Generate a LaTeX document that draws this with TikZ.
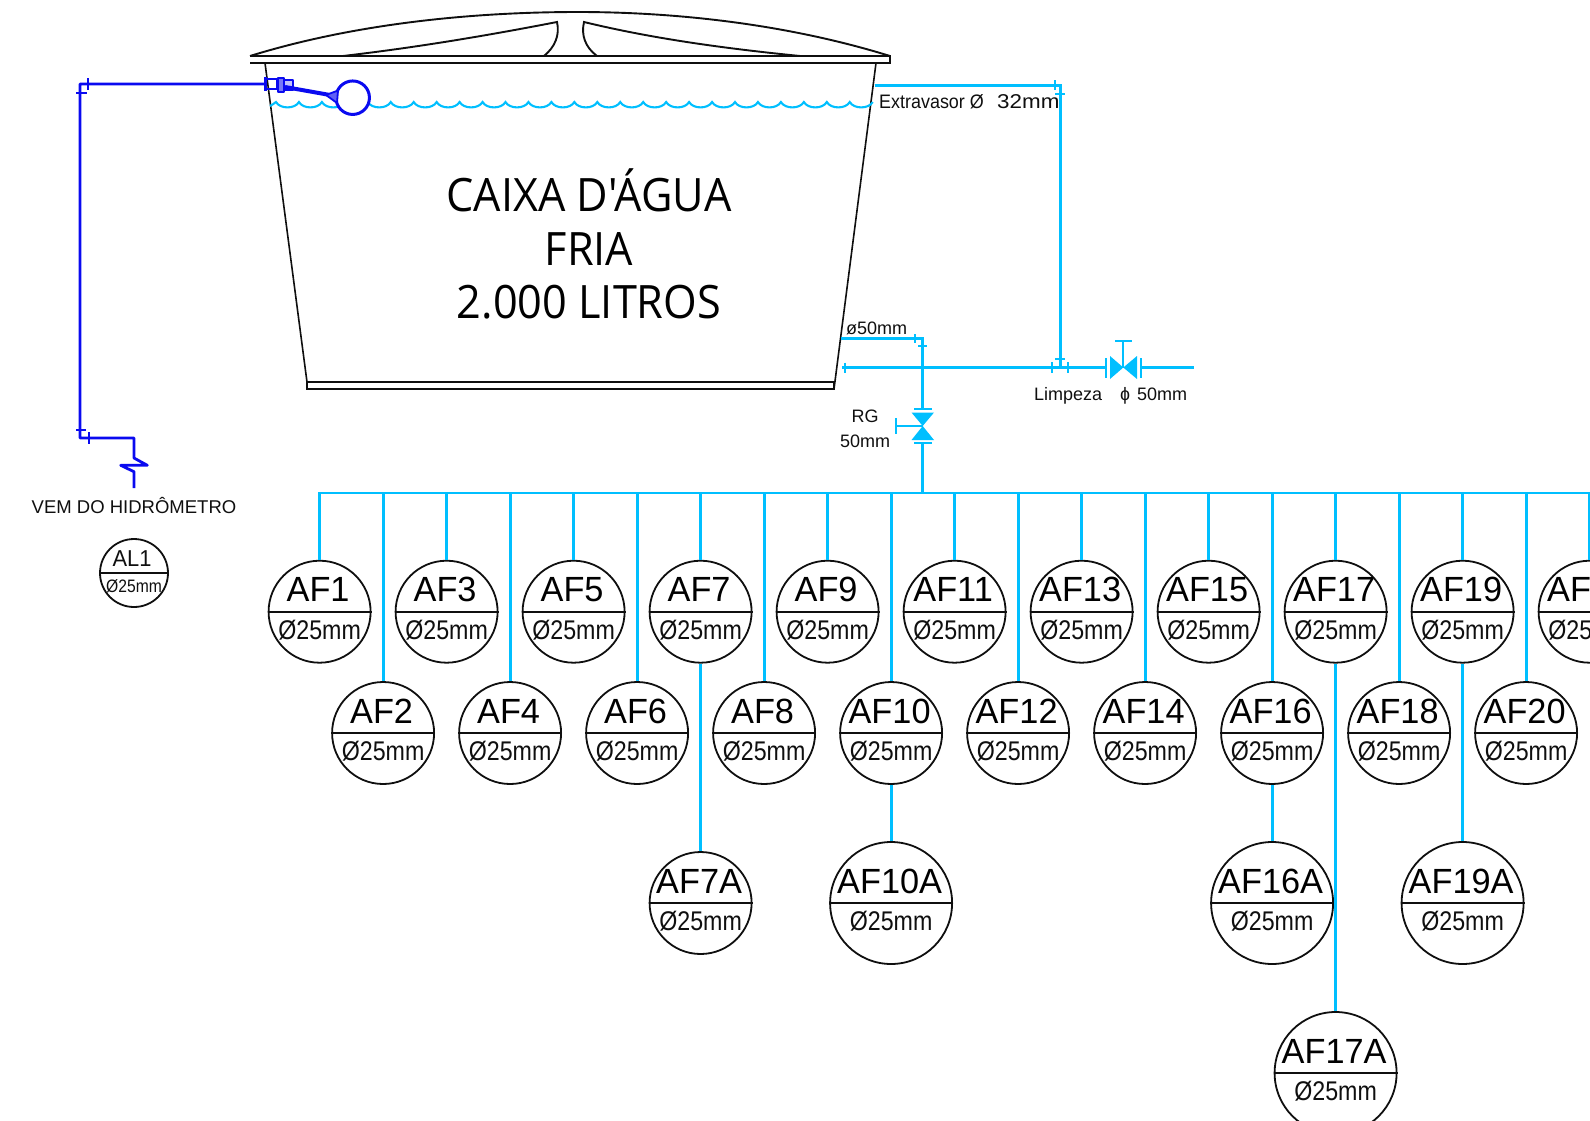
\documentclass[tikz,border=0pt]{standalone}
\usepackage{fontspec}
\usepackage{graphicx}
\setmainfont{Liberation Sans}
\newfontfamily\tankfont{Open Sans}
\definecolor{wat}{RGB}{0,191,255}
\definecolor{feed}{RGB}{10,10,240}
\definecolor{ink}{RGB}{15,15,15}
\tikzset{
  x=1pt,y=-1pt,
  tank/.style={draw=ink,line width=1.9pt},
  pipe/.style={draw=wat,line width=2.8pt},
  feedpipe/.style={draw=feed,line width=2.8pt,line join=round},
  tick/.style={draw=wat,line width=2.2pt},
  feedtick/.style={draw=feed,line width=2.4pt},
  tag/.style={draw=ink,line width=1.8pt,circle,minimum size=102pt,inner sep=0pt,fill=white},
  bigtag/.style={tag,minimum size=122pt},
  note/.style={text=ink,font=\fontsize{18}{18}\selectfont,inner sep=0pt},
  tanktext/.style={text=black,font=\tankfont\fontsize{46}{53.5}\selectfont,inner sep=0pt,align=center}
}
\newcommand{\tagtext}[2]{%
  \draw[ink,line width=1.8pt] (#1.west) -- (#1.east);
  \node[inner sep=0pt,font=\fontsize{35}{35}\selectfont,text=black] at ([xshift=-1.5pt,yshift=22pt]#1.center) {\scalebox{.98}[1]{#2}};
  \node[inner sep=0pt,font=\fontsize{27}{27}\selectfont,text=ink] at ([yshift=-18pt]#1.center) {\scalebox{.86}[1]{Ø25mm}};
}
\begin{document}
\begin{tikzpicture}
\clip (0,0) rectangle (1590,1120);
\useasboundingbox (0,0) rectangle (1590,1120);
% ---- tank
\draw[tank] (250,56) .. controls (360,22) and (480,12) .. (578,12) .. controls (680,12) and (790,25) .. (890,56);
\draw[tank] (250,56) -- (890,56) -- (890,63) -- (250,63);
\draw[tank] (343,56) .. controls (420,47) and (490,35) .. (557,22) .. controls (560,35) and (555,47) .. (544,56);
\draw[tank] (800,56) .. controls (720,48) and (650,38) .. (584,22) .. controls (581,35) and (585,47) .. (597,56);
\draw[tank,line width=1.6pt] (265,63) -- (307,382) -- (307,389) -- (834,389) -- (834,382);
\draw[tank,line width=1.6pt] (307,382) -- (834,382);
\draw[tank,line width=1.6pt] (876,63) -- (834,389);
\node[tanktext] (tanklabel) at (589,244) {\scalebox{.94}[1]{CAIXA D'ÁGUA}\\\scalebox{.94}[1]{FRIA}\\\scalebox{.94}[1]{2.000 LITROS}};
% ---- water surface
\draw[wat,line width=2.1pt] (270,106) .. controls (272,105) and (274,103.5) .. (276,102)
  foreach \i in {0,...,25}{ .. controls ({276+\i*22.95+4},109.2) and ({276+\i*22.95+19},109.2) .. ({276+\i*22.95+22.95},102) };
% ---- float valve
\node[draw=feed,line width=3pt,circle,minimum size=33.5pt,inner sep=0pt,fill=white] (float) at (352.7,97.7) {};
\coordinate (fillend) at (266,84);
\coordinate (fcorner1) at (80,84);
\coordinate (fcorner2) at (80,438);
\coordinate (fcorner3) at (134,438);
\coordinate (fz1) at (134,458);
\coordinate (fz2) at (134,471.7);
\coordinate (fend) at (134,488);
\draw[feedpipe] (fend) -- (fz2) -- (120.7,465.3) -- (147.3,465.3) -- (fz1) -- (fcorner3) -- (fcorner2) -- (fcorner1) -- (fillend);
\draw[feedtick] (88,78) -- (88,90) (76,93) -- (87,93) (76,430) -- (86,430) (89,432) -- (89,444);
\draw[feedpipe,line width=2.4pt] (266,79) rectangle (277,89);
\draw[feedpipe,line width=3pt] (265,77) -- (265,91);
\draw[feedpipe,line width=2.4pt,fill=feed!55] (278,78) rectangle (284,92);
\draw[feedpipe,line width=2.4pt,fill=feed!25] (284,80) rectangle (293,90);
\draw[feed,line width=4pt] (285,87) -- (330,95);
\draw[feed,line width=1.8pt,fill=feed!65] (326,95) -- (338,90.5) -- (337,103) -- cycle;
% ---- overflow
\coordinate (ovA) at (875,85.5);
\coordinate (ovB) at (1060.5,85.5);
\coordinate (ovC) at (1060.5,367.5);
\draw[pipe] (ovA) -- (ovB) -- (ovC);
\draw[tick] (1055,80) -- (1055,90) (1055,94) -- (1065,94);
\draw[tick] (1055,359) -- (1065,359);
\node[note,anchor=west,font=\fontsize{19.5}{19.5}\selectfont] (ovlabel) at (879,102) {\scalebox{.92}[1]{Extravasor Ø}};
\node[note,anchor=west,font=\fontsize{20}{20}\selectfont] (ovsize) at (997,102) {\scalebox{1.12}[1]{32mm}};
% ---- cleaning / outlet
\coordinate (clA) at (842,367.5);
\coordinate (clB) at (1194,367.5);
\draw[pipe] (clA) -- (1106,367.5);
\draw[pipe] (1141,367.5) -- (clB);
\draw[tick] (845,362.5) -- (845,372.5) (1051.7,362) -- (1051.7,373) (1068.3,362) -- (1068.3,373);
\draw[tick] (1106,358) -- (1106,378) (1140.7,358) -- (1140.7,378);
\path[fill=wat] (1110,356) -- (1123.3,367.5) -- (1110,379) -- cycle;
\path[fill=wat] (1137,356) -- (1123.3,367.5) -- (1137,379) -- cycle;
\draw[tick] (1123.3,367.5) -- (1123.3,341) (1115,341) -- (1132,341);
\node[note,anchor=west] (limp) at (1034,396) {Limpeza};
\node[note,anchor=west] (dia) at (1120,396) {ɸ\hspace{7pt}50mm};
% ---- outlet
\coordinate (ouA) at (841,338.5);
\coordinate (ouB) at (922.7,338.5);
\coordinate (trunk) at (922.7,493);
\draw[pipe] (ouA) -- (ouB) -- (922.7,408);
\draw[pipe] (922.7,444) -- (trunk);
\draw[tick] (915,334) -- (915,343) (918,346) -- (927,346);
\draw[tick] (914,408.7) -- (932,408.7) (914,443) -- (932,443);
\path[fill=wat] (911.5,412.5) -- (934,412.5) -- (922.7,426) -- cycle;
\path[fill=wat] (911.5,440) -- (934,440) -- (922.7,426) -- cycle;
\draw[tick] (922.7,426) -- (896,426) (896,418) -- (896,434);
\node[note,anchor=west] (d50) at (846,328) {ø50mm};
\node[note] (rg) at (865,416) {RG};
\node[note] (rg50) at (865,441) {50mm};
\node[text=ink,inner sep=0pt,font=\fontsize{18.5}{18.5}\selectfont] (vem) at (134,505) {VEM DO HIDRÔMETRO};
% ---- branch main
\coordinate (mainL) at (318.2,493);
\coordinate (mainR) at (1590,493);
\draw[pipe] (mainL) -- (mainR);
% ---- branches
\foreach \n/\xx in {1/319.6,3/446.6,5/573.6,7/700.6,9/827.6,11/954.6,13/1081.6,15/1208.6,17/1335.6,19/1462.6,21/1589.6}{
  \node[tag] (AF\n) at (\xx,611.7) {};
  \draw[pipe] (\xx,493) -- (AF\n.north);
}
\foreach \n/\xx in {2/383.1,4/510.1,6/637.1,8/764.1,10/891.1,12/1018.1,14/1145.1,16/1272.1,18/1399.1,20/1526.1}{
  \node[tag] (AF\n) at (\xx,733) {};
  \draw[pipe] (\xx,493) -- (AF\n.north);
}
\node[tag] (AF7A) at (700.6,903) {};
\node[bigtag] (AF10A) at (891.1,903) {};
\node[bigtag] (AF16A) at (1272.1,903) {};
\node[bigtag] (AF19A) at (1462.6,903) {};
\node[bigtag] (AF17A) at (1335.6,1073) {};
\draw[pipe] (AF7.south) -- (AF7A.north);
\draw[pipe] (AF10.south) -- (AF10A.north);
\draw[pipe] (AF16.south) -- (AF16A.north);
\draw[pipe] (AF19.south) -- (AF19A.north);
\draw[pipe,line width=3.4pt] (AF17.south) -- (AF17A.north);
\foreach \n in {1,...,21}{\tagtext{AF\n}{AF\n}}
\foreach \n in {7A,10A,16A,19A,17A}{\tagtext{AF\n}{AF\n}}
% ---- AL1
\node[tag,minimum size=68pt] (AL1) at (134,573) {};
\draw[ink,line width=1.8pt] (AL1.west) -- (AL1.east);
\node[inner sep=0pt,font=\fontsize{23}{23}\selectfont,text=ink] at (132,559) {\scalebox{.95}[1]{AL1}};
\node[inner sep=0pt,font=\fontsize{18}{18}\selectfont,text=ink] at (134,586) {\scalebox{.87}[1]{Ø25mm}};
\end{tikzpicture}
\end{document}
